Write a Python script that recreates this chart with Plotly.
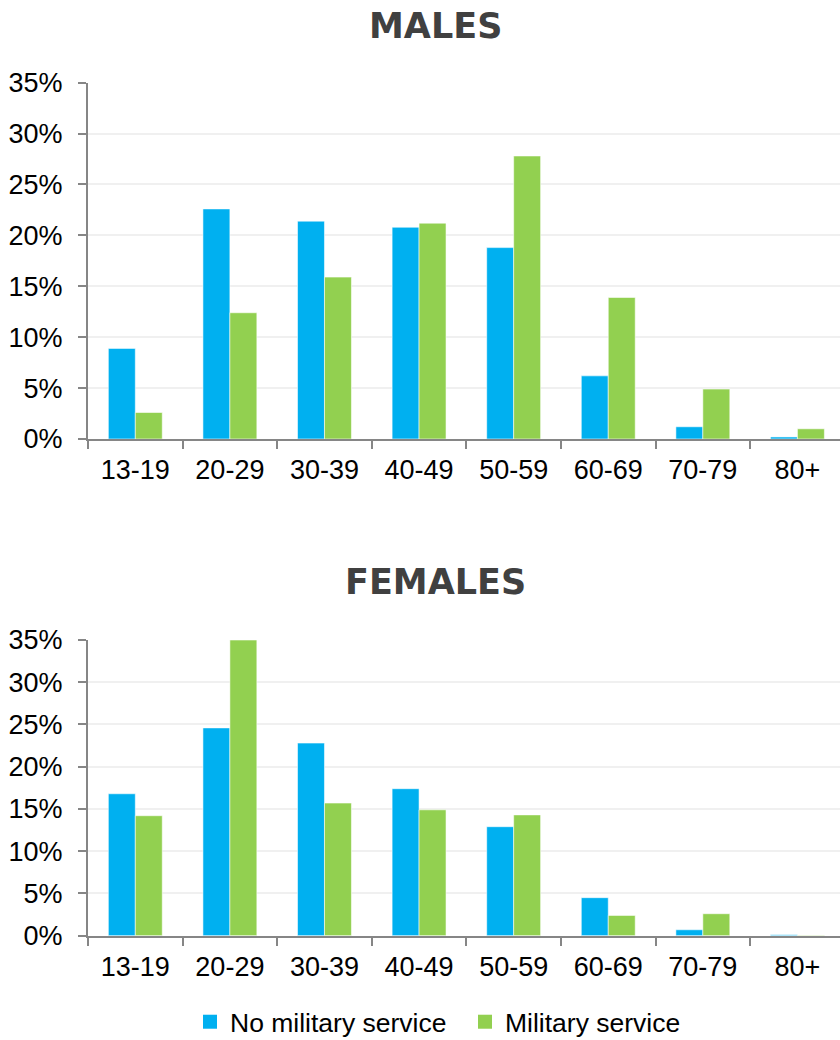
import plotly.graph_objects as go

age_groups = ["13-19", "20-29", "30-39", "40-49", "50-59", "60-69", "70-79", "80+"]

males_no_service = [8.9, 22.6, 21.4, 20.8, 18.8, 6.2, 1.2, 0.2]
males_service = [2.6, 12.4, 15.9, 21.2, 27.8, 13.9, 4.9, 1.0]

females_no_service = [16.8, 24.6, 22.8, 17.4, 12.9, 4.5, 0.7, 0.1]
females_service = [14.2, 35.0, 15.7, 14.9, 14.3, 2.4, 2.6, 0.05]

series_names = ["No military service", "Military service"]
BLUE = "#00B0F0"
GREEN = "#92D050"
AXIS = "#868686"
GRID = "#F0F0F0"
FONT = "Liberation Sans, Arial, sans-serif"
TITLE_FONT = "DejaVu Sans, sans-serif"

W, H, LEFT = 840, 1040, 88

fig = go.Figure()

bar_line = dict(color="rgba(255,255,255,0.55)", width=1)

panels = [
    ("x", "y", males_no_service, males_service),
    ("x2", "y2", females_no_service, females_service),
]
for xa, ya, no_srv, srv in panels:
    fig.add_trace(go.Bar(x=age_groups, y=no_srv, name=series_names[0],
                         marker=dict(color=BLUE, line=bar_line),
                         xaxis=xa, yaxis=ya, showlegend=False))
    fig.add_trace(go.Bar(x=age_groups, y=srv, name=series_names[1],
                         marker=dict(color=GREEN, line=bar_line),
                         xaxis=xa, yaxis=ya, showlegend=False))

# legend entries with square swatches
for name, color in zip(series_names, [BLUE, GREEN]):
    fig.add_trace(go.Scatter(x=[None], y=[None], mode="markers", name=name,
                             marker=dict(symbol="square", size=14, color=color),
                             xaxis="x2", yaxis="y2", showlegend=True))

x_common = dict(
    type="category", range=[-0.5, 7.45], showline=True, linecolor=AXIS,
    linewidth=2, ticks="outside", ticklen=8, tickwidth=2, tickcolor=AXIS,
    tickson="boundaries", showgrid=False, zeroline=False, automargin=False,
    tickfont=dict(family=FONT, size=27, color="#000000"),
    ticklabelstandoff=6, fixedrange=True,
)
y_common = dict(
    range=[0, 35], dtick=5, ticksuffix="%", showline=True, linecolor=AXIS,
    linewidth=2, ticks="outside", ticklen=8, tickwidth=2, tickcolor=AXIS,
    showgrid=True, gridcolor=GRID, gridwidth=2, zeroline=False, automargin=False,
    tickfont=dict(family=FONT, size=27, color="#000000"),
    ticklabelstandoff=10,
)

fig.update_layout(
    width=W, height=H,
    margin=dict(l=LEFT, r=0, t=0, b=0, autoexpand=False),
    paper_bgcolor="white", plot_bgcolor="white",
    barmode="group", bargap=0.43, bargroupgap=0,
    xaxis=dict(x_common, domain=[0, 1], anchor="y"),
    yaxis=dict(y_common, domain=[0.5779, 0.9205], anchor="x"),
    xaxis2=dict(x_common, domain=[0, 1], anchor="y2"),
    yaxis2=dict(y_common, domain=[0.1003, 0.3846], anchor="x2"),
    legend=dict(orientation="h", xref="container", yref="container",
                x=(210 - 20) / W, xanchor="left", y=18 / H, yanchor="middle",
                entrywidth=230, entrywidthmode="pixels",
                font=dict(family=FONT, size=26.5, color="#000000"),
                itemwidth=30, traceorder="normal", bgcolor="rgba(0,0,0,0)"),
    annotations=[
        dict(text="<b>MALES</b>", x=(435 - LEFT) / (W - LEFT), y=(H - 26) / H,
             xref="paper", yref="paper", yanchor="middle", showarrow=False,
             font=dict(family=TITLE_FONT, size=35, color="#404040")),
        dict(text="<b>FEMALES</b>", x=(435 - LEFT) / (W - LEFT), y=(H - 582) / H,
             xref="paper", yref="paper", yanchor="middle", showarrow=False,
             font=dict(family=TITLE_FONT, size=35, color="#404040")),
    ],
)

fig.write_html("out.html")
